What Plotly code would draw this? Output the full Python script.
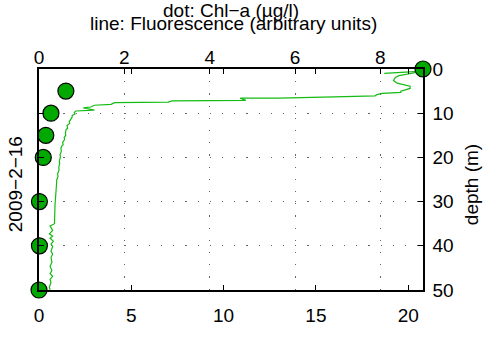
import plotly.graph_objects as go

# Chl-a samples (top axis, ug/l) vs depth (m)
chl_depth = [0, 5, 10, 15, 20, 30, 40, 50]
chl_value = [9.0, 0.63, 0.28, 0.16, 0.10, 0.01, 0.01, 0.0]

# Fluorescence profile (bottom axis, arbitrary units) vs depth (m)
fl_depth = [1.0, 0.8, 0.6, 0.5, 0.9, 1.5, 1.9, 2.6, 3.2, 3.6, 3.9, 4.4, 4.7, 5.0, 5.3,
            5.5, 5.8, 6.1, 6.3, 6.6, 6.6, 7.1, 7.2, 7.5, 7.6, 8.0, 8.2, 8.6, 8.8, 9.3,
            9.5, 9.8, 10.2, 10.5, 10.9, 11.3, 11.9, 12.3, 12.8, 13.4, 13.75, 14.5,
            15.0, 15.5, 16.0, 16.6, 17.1, 17.5, 18.0, 18.6, 19.4, 19.9, 20.9, 21.4,
            22.3, 22.8, 23.7, 24.3, 25.1, 26.0, 27.3, 28.2, 29.5, 30.6, 31.8, 33.0,
            34.1, 35.0, 35.5, 36.0, 36.5, 37.3, 37.8, 38.3, 39.0, 39.6, 40.1, 41.2,
            41.9, 42.6, 43.7, 44.7, 45.6, 46.3, 46.9, 47.6, 48.3, 49.4, 50.0]
fl_value = [18.7, 19.6, 20.4, 20.8, 20.3, 19.5, 19.3, 19.2, 19.4, 19.9, 20.1, 20.1, 19.8, 19.6, 19.6,
            18.6, 18.3, 18.2, 16.0, 13.0, 10.9, 11.2, 7.2, 7.0, 4.1, 3.9, 3.0, 2.8, 2.4, 3.0,
            2.0, 1.91, 1.95, 1.8, 1.79, 1.72, 1.64, 1.66, 1.52, 1.55, 1.46, 1.43,
            1.45, 1.37, 1.38, 1.28, 1.31, 1.22, 1.19, 1.21, 1.14, 1.16, 1.10, 1.12,
            1.07, 1.09, 1.01, 1.03, 0.96, 0.95, 0.92, 0.91, 0.88, 0.87, 0.86, 0.84,
            0.83, 0.84, 0.60, 0.68, 0.74, 0.56, 0.74, 0.60, 0.78, 0.65, 0.74, 0.65,
            0.74, 0.65, 0.70, 0.60, 0.70, 0.60, 0.74, 0.60, 0.65, 0.56, 0.60]

top_ticks = [0, 2, 4, 6, 8]
bottom_ticks = [0, 5, 10, 15, 20]
depth_ticks = [0, 10, 20, 30, 40, 50]

FONT = "Liberation Sans, Arial, Helvetica, sans-serif"
FS = 19
W, H = 486, 338
L, R, T, B = 39, 423, 69, 303

def px(x):
    return (x - L) / (R - L)

def py(y):
    return (B - y) / (B - T)

fig = go.Figure()
fig.add_trace(go.Scatter(
    x=fl_value, y=fl_depth, mode="lines", xaxis="x", yaxis="y",
    line=dict(color="#14bb14", width=1.2), showlegend=False,
))
fig.add_trace(go.Scatter(
    x=chl_value, y=chl_depth, mode="markers", xaxis="x2", yaxis="y",
    marker=dict(size=16, color="#00a800", line=dict(color="black", width=1.2)),
    cliponaxis=False, showlegend=False,
))

grid = dict(gridcolor="#666666", gridwidth=1.2, griddash="1.2px,11px")
fig.update_layout(
    width=W, height=H,
    margin=dict(l=L, r=W - R, t=T, b=H - B, pad=0),
    paper_bgcolor="white", plot_bgcolor="white",
    font=dict(family=FONT, size=FS, color="black"),
    xaxis=dict(range=[0, 20.8], tickvals=bottom_ticks, ticks="inside", ticklen=5,
               tickwidth=1, tickcolor="black", showline=True, linecolor="black",
               linewidth=1.5, mirror="ticks", showgrid=False, zeroline=False,
               ticklabelstandoff=7),
    xaxis2=dict(range=[0, 9], tickvals=top_ticks, overlaying="x", side="top",
                anchor="y", ticks="inside", ticklen=5, tickwidth=1, tickcolor="black",
                showline=True, linecolor="black", linewidth=1.5, showgrid=True,
                zeroline=False, ticklabelstandoff=-4, **grid),
    yaxis=dict(range=[50, 0], tickvals=depth_ticks, side="right", ticks="inside",
               ticklen=5, tickwidth=1, tickcolor="black", showline=True,
               linecolor="black", linewidth=1.5, mirror="ticks", showgrid=True,
               zeroline=False, ticklabelstandoff=4, **grid),
)

ann = dict(xref="paper", yref="paper", showarrow=False, font=dict(family=FONT, size=FS))
fig.add_annotation(text="dot: Chl\u2212a (\u00b5g/l)", x=px(231), y=py(7),
                   xanchor="center", yanchor="middle", **ann)
fig.add_annotation(text="line: Fluorescence (arbitrary units)", x=px(233), y=py(21),
                   xanchor="center", yanchor="middle", **ann)
fig.add_annotation(text="2009\u22122\u221216", x=px(15), y=py(191), textangle=-90,
                   xanchor="center", yanchor="middle", **ann)
fig.add_annotation(text="depth (m)", x=px(471), y=py(192), textangle=-90,
                   xanchor="center", yanchor="middle", **ann)

fig.write_html("out.html")
